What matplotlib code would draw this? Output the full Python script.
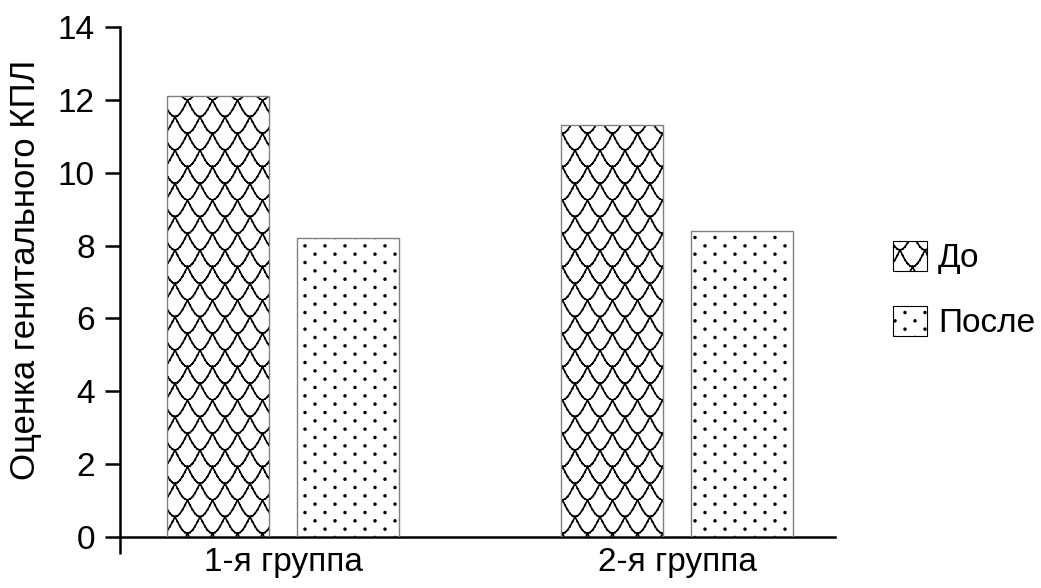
import numpy as np
import matplotlib
matplotlib.use('Agg')
from matplotlib import pyplot as plt
import matplotlib.hatch as mhatch
from matplotlib.path import Path
from matplotlib.patches import Patch

groups = ['1-я группа', '2-я группа']
before = [12.1, 11.3]
after = [8.2, 8.4]
series_names = ['До', 'После']
yticks = [0, 2, 4, 6, 8, 10, 12, 14]


# custom fill patterns: "scales" for 'O' and a sparse staggered dot grid for '.'
class ScaleHatch(mhatch.HatchPatternBase):
    ncols, nrows, steps = 4, 6, 10

    def __init__(self, hatch, density):
        self.on = hatch.count('O') > 0
        self.num_vertices = self.nrows * self.ncols * self.steps * 2 if self.on else 0

    def set_vertices_and_codes(self, vertices, codes):
        dy = 1.0 / self.nrows
        w = 1.0 / self.ncols
        segs = []
        for r in range(self.nrows):
            y0 = (r + 1) * dy
            shift = (r % 2) * w / 2
            t = np.linspace(0, 1, self.ncols * self.steps + 1)
            y = y0 - dy * np.abs(np.sin(np.pi * (t - shift) / w))
            for i in range(len(t) - 1):
                segs.append((t[i], y[i]))
                segs.append((t[i + 1], y[i + 1]))
        vertices[:] = np.array(segs)
        codes[0::2] = Path.MOVETO
        codes[1::2] = Path.LINETO


class DotHatch(mhatch.HatchPatternBase):
    ncols, nrows, rad = 5, 12, 0.009
    filled = True

    def __init__(self, hatch, density):
        self.on = hatch.count('.') > 0
        self.circ = Path.unit_circle()
        self.num_vertices = self.nrows * self.ncols * len(self.circ.vertices) if self.on else 0

    def set_vertices_and_codes(self, vertices, codes):
        n = len(self.circ.vertices)
        k = 0
        for r in range(self.nrows):
            yc = (r + 0.5) / self.nrows
            for c in range(self.ncols):
                xc = (c + 0.25 + (r % 2) * 0.5) / self.ncols
                vertices[k:k + n] = self.circ.vertices * self.rad + [xc, yc]
                codes[k:k + n] = self.circ.codes
                k += n


mhatch._hatch_types = [mhatch.HorizontalHatch, mhatch.VerticalHatch,
                       mhatch.NorthEastHatch, mhatch.SouthEastHatch,
                       mhatch.SmallCircles, ScaleHatch, DotHatch, mhatch.Stars]

plt.rcParams['font.family'] = ['Liberation Sans', 'DejaVu Sans']
plt.rcParams['font.size'] = 24
plt.rcParams['hatch.linewidth'] = 1.2

fig = plt.figure(figsize=(10.41, 5.88), dpi=100)
ax = fig.add_axes([120 / 1041, 51 / 588, 715 / 1041, 510 / 588])

x = np.arange(len(groups))
off = 0.165
w = 0.259
hatches = ['O', '.']
for vals, dx, h in zip([before, after], [-off, off], hatches):
    ax.bar(x + dx, vals, w, color='white', edgecolor='black', linewidth=0, hatch=h, zorder=2)
    ax.bar(x + dx, vals, w, fill=False, edgecolor='#808080', linewidth=1, zorder=3)

ax.set_xlim(-0.414, 1.401)
ax.set_ylim(0, 14)
ax.set_yticks(yticks)
ax.set_xticks(x)
ax.set_xticklabels(groups)
ax.set_xticks([-0.414], minor=True)

for s in ['top', 'right']:
    ax.spines[s].set_visible(False)
for s in ['left', 'bottom']:
    ax.spines[s].set_linewidth(1.8)

ax.tick_params(axis='y', length=11, width=1.8, pad=7)
ax.tick_params(axis='x', which='major', length=0, pad=7)
ax.tick_params(axis='x', which='minor', length=12, width=1.8)

ax.set_ylabel('Оценка генитального КПЛ', fontsize=25)
ax.yaxis.set_label_coords(-0.109, 0.524)

handles = [Patch(facecolor='white', edgecolor='black', linewidth=0.8, hatch=h) for h in hatches]
fig.legend(handles, series_names, loc='upper left', bbox_to_anchor=(893 / 1041, 1 - 241 / 588),
           frameon=False, borderpad=0, borderaxespad=0, handlelength=1.02, handleheight=1.0,
           handletextpad=0.33, labelspacing=0.95)

plt.savefig('out.png', dpi=100)
